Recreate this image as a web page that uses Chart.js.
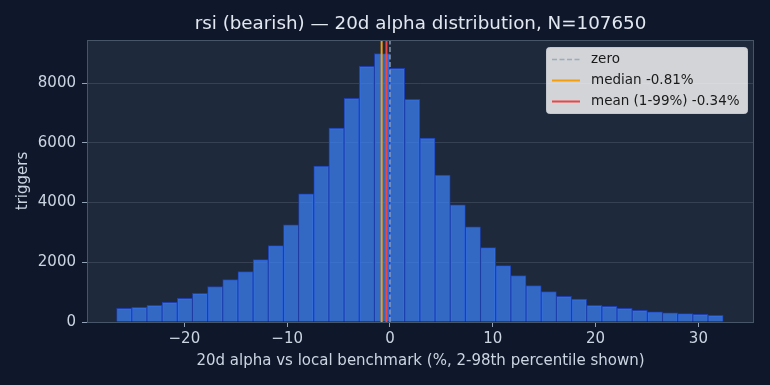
<!DOCTYPE html>
<html>
<head>
<meta charset="utf-8">
<script src="https://cdn.jsdelivr.net/npm/chart.js@4.4.1/dist/chart.umd.min.js"></script>
<style>
  html, body { margin: 0; padding: 0; background: #0f172a; }
  #wrap { width: 770px; height: 385px; }
</style>
</head>
<body>
<div id="wrap"><canvas id="grafico" width="770" height="385"></canvas></div>
<script>
// bordas das classes do histograma (alpha em %, 2-98 percentil)
const binEdges = [-26.59, -25.115, -23.64, -22.165, -20.69, -19.215, -17.74, -16.265, -14.79, -13.315,
  -11.84, -10.365, -8.89, -7.415, -5.94, -4.465, -2.99, -1.515, -0.04, 1.435,
  2.91, 4.385, 5.86, 7.335, 8.81, 10.285, 11.76, 13.235, 14.71, 16.185,
  17.66, 19.135, 20.61, 22.085, 23.56, 25.035, 26.51, 27.985, 29.46, 30.935, 32.41];
// contagem de gatilhos em cada classe
const counts = [456, 489, 556, 656, 789, 956, 1189, 1422, 1689, 2089,
  2556, 3256, 4289, 5222, 6489, 7489, 8556, 8989, 8489, 7456,
  6156, 4922, 3922, 3189, 2489, 1889, 1556, 1222, 1022, 856,
  767, 556, 522, 456, 389, 344, 311, 278, 256, 222];
const xTicks = [-20, -10, 0, 10, 20, 30];
const yTicks = [0, 2000, 4000, 6000, 8000];
const xRange = [-29.47, 35.41];
const yRange = [0, 9440];
const zeroValue = 0;
const medianValue = -0.81;
const meanValue = -0.34;
const titulo = 'rsi (bearish) \u2014 20d alpha distribution, N=107650';

const fonte = '"DejaVu Sans", sans-serif';

// pontos das barras no centro de cada classe
const barData = counts.map((c, i) => ({ x: (binEdges[i] + binEdges[i + 1]) / 2, y: c }));

function vline(v) {
  return [{ x: v, y: yRange[0] }, { x: v, y: yRange[1] }];
}

// fundo da figura e da área do gráfico + moldura
const fundoPlugin = {
  id: 'fundo',
  beforeDraw(chart) {
    const { ctx, chartArea: a } = chart;
    ctx.save();
    ctx.fillStyle = '#0f172a';
    ctx.fillRect(0, 0, chart.width, chart.height);
    ctx.fillStyle = '#1e293b';
    ctx.fillRect(a.left, a.top, a.right - a.left, a.bottom - a.top);
    ctx.restore();
  },
  afterDraw(chart) {
    const { ctx, chartArea: a } = chart;
    ctx.save();
    ctx.strokeStyle = '#475569';
    ctx.lineWidth = 1;
    ctx.strokeRect(a.left + 0.5, a.top + 0.5, a.right - a.left - 1, a.bottom - a.top);
    // título centrado na área do gráfico
    ctx.fillStyle = '#e2e8f0';
    ctx.font = '18.3px ' + fonte;
    ctx.textAlign = 'center';
    ctx.textBaseline = 'middle';
    ctx.fillText(titulo, (a.left + a.right) / 2, 24.5);
    ctx.restore();
  }
};

// legenda com caixa clara no canto superior direito
const legendaPlugin = {
  id: 'legenda',
  afterDraw(chart) {
    const { ctx, chartArea: a } = chart;
    const itens = chart.data.datasets.filter(d => d.type === 'line');
    const x = a.right - 208, y = a.top + 7, w = 201, h = 66;
    ctx.save();
    ctx.fillStyle = 'rgba(255,255,255,0.8)';
    ctx.strokeStyle = 'rgba(204,208,214,0.9)';
    ctx.lineWidth = 1;
    ctx.beginPath();
    ctx.roundRect(x + 0.5, y + 0.5, w, h, 3);
    ctx.fill();
    ctx.stroke();
    ctx.font = '13.5px ' + fonte;
    ctx.textBaseline = 'middle';
    ctx.textAlign = 'left';
    itens.forEach((d, i) => {
      const ly = y + 12.5 + i * 21;
      ctx.strokeStyle = d.borderColor;
      ctx.lineWidth = d.borderWidth;
      ctx.setLineDash(d.borderDash || []);
      ctx.beginPath();
      ctx.moveTo(x + 6, ly);
      ctx.lineTo(x + 34, ly);
      ctx.stroke();
      ctx.setLineDash([]);
      ctx.fillStyle = '#1a1a1a';
      ctx.fillText(d.label, x + 45, ly);
    });
    ctx.restore();
  }
};

function fixTicks(values) {
  return function (scale) {
    scale.ticks = values.map(v => ({ value: v }));
  };
}

const ctx = document.getElementById('grafico').getContext('2d');
const chart = new Chart(ctx, {
  type: 'bar',
  data: {
    datasets: [
      {
        type: 'line', label: 'zero', data: vline(zeroValue),
        borderColor: 'rgba(148,163,184,0.85)', borderWidth: 1.6, borderDash: [5, 2.5],
        pointRadius: 0, order: 2
      },
      {
        type: 'line', label: 'median ' + medianValue.toFixed(2) + '%', data: vline(medianValue),
        borderColor: '#f59e0b', borderWidth: 2, pointRadius: 0, order: 1
      },
      {
        type: 'line', label: 'mean (1-99%) ' + meanValue.toFixed(2) + '%', data: vline(meanValue),
        borderColor: '#ef4444', borderWidth: 2, pointRadius: 0, order: 0
      },
      {
        type: 'bar', label: 'triggers', data: barData,
        backgroundColor: 'rgba(59,130,246,0.72)', borderColor: '#1e40af', borderWidth: 1,
        barPercentage: 1, categoryPercentage: 1, order: 10
      }
    ]
  },
  options: {
    responsive: false,
    animation: false,
    devicePixelRatio: 1,
    layout: { padding: { top: 40, right: 16, left: 0, bottom: 0 } },
    plugins: {
      legend: { display: false },
      title: { display: false },
      tooltip: { enabled: false }
    },
    scales: {
      x: {
        type: 'linear',
        offset: false,
        min: xRange[0], max: xRange[1],
        afterBuildTicks: fixTicks(xTicks),
        afterFit(scale) { scale.height = 63; },
        grid: { drawOnChartArea: false, drawTicks: true, tickLength: 5, tickColor: '#94a3b8', offset: false },
        border: { display: false },
        ticks: {
          color: '#cbd5e1', font: { family: fonte, size: 15 }, padding: 3,
          maxRotation: 0,
          callback: v => String(v).replace('-', '\u2212')
        },
        title: {
          display: true, text: '20d alpha vs local benchmark (%, 2-98th percentile shown)',
          color: '#cbd5e1', font: { family: fonte, size: 15 }, padding: { top: 2, bottom: 15 }
        }
      },
      y: {
        min: yRange[0], max: yRange[1],
        afterBuildTicks: fixTicks(yTicks),
        afterFit(scale) { scale.width = 87; },
        grid: { color: 'rgba(148,163,184,0.2)', tickColor: '#94a3b8', tickLength: 5 },
        border: { display: false },
        ticks: {
          color: '#cbd5e1', font: { family: fonte, size: 15 }, padding: 6,
          callback: v => String(v)
        },
        title: {
          display: true, text: 'triggers', color: '#cbd5e1',
          font: { family: fonte, size: 15 }, padding: { bottom: 0, top: 14 }
        }
      }
    }
  },
  plugins: [fundoPlugin, legendaPlugin]
});
</script>
</body>
</html>
